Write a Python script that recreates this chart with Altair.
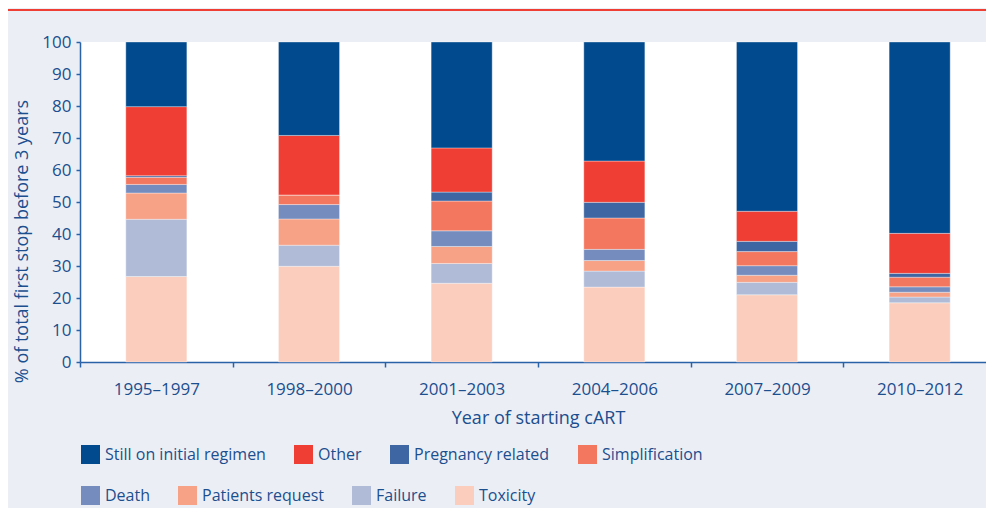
import altair as alt
import pandas as pd

periods = ["1995–1997", "1998–2000", "2001–2003", "2004–2006", "2007–2009", "2010–2012"]
causes_row1 = ["Still on initial regimen", "Other", "Pregnancy related", "Simplification"]
colors_row1 = ["#024a8e", "#ef3e33", "#3e66a2", "#f3765e"]
causes_row2 = ["Death", "Patients request", "Failure", "Toxicity"]
colors_row2 = ["#758dbe", "#f7a187", "#b0bbd8", "#facdbd"]

toxicity = [26.7, 29.9, 24.6, 23.4, 21.0, 18.5]
failure = [17.9, 6.6, 6.2, 5.0, 3.9, 1.8]
patients_request = [8.2, 8.2, 5.3, 3.3, 2.2, 1.5]
death = [2.7, 4.5, 4.9, 3.5, 3.0, 1.7]
simplification = [2.2, 3.0, 9.3, 9.8, 4.4, 3.0]
pregnancy = [0.5, 0.0, 2.8, 4.9, 3.2, 1.2]
other = [21.6, 18.6, 13.8, 12.9, 9.4, 12.5]
still = [20.2, 29.2, 33.1, 37.2, 52.9, 59.8]

series = {
    "Toxicity": toxicity,
    "Failure": failure,
    "Patients request": patients_request,
    "Death": death,
    "Simplification": simplification,
    "Pregnancy related": pregnancy,
    "Other": other,
    "Still on initial regimen": still,
}

rows = []
for k, (name, vals) in enumerate(series.items()):
    for p, v in zip(periods, vals):
        rows.append({"period": p, "cause": name, "value": v, "ord": k})
df = pd.DataFrame(rows)

TXT = "#1b4f8e"
AX = "#2a62a8"
FONT = "Open Sans"

x_enc = alt.X("period:N", sort=periods,
              scale=alt.Scale(range=[0, 916], paddingInner=0, paddingOuter=0),
              axis=alt.Axis(title="Year of starting cART", labelAngle=0, tickBand="extent",
                            domainColor=AX, domainWidth=1.5, tickColor=AX, tickWidth=1.5, tickSize=5,
                            labelColor=TXT, labelFontSize=17, labelFont=FONT, labelPadding=14,
                            titleColor=TXT, titleFontSize=18, titleFont=FONT, titleFontWeight="normal",
                            titlePadding=12))
y_enc = alt.Y("y0:Q",
              scale=alt.Scale(domain=[0, 100], nice=False),
              axis=alt.Axis(title="% of total first stop before 3 years", values=list(range(0, 101, 10)),
                            grid=False, domainColor=AX, domainWidth=1.5, tickColor=AX, tickWidth=1.5,
                            tickSize=4, labelColor=TXT, labelFontSize=17, labelFont=FONT, labelPadding=5,
                            titleColor=TXT, titleFontSize=18, titleFont=FONT, titleFontWeight="normal",
                            titleX=-58, titleY=199, titleAlign="center", titleBaseline="middle",
                            titleAngle=-90))


def legend(y):
    return alt.Legend(title=None, orient="none", legendX=1, legendY=y,
                      direction="horizontal", columnPadding=28, padding=0,
                      symbolType="square", symbolSize=361, symbolStrokeWidth=0,
                      symbolOpacity=1, labelOffset=5, labelFontSize=16,
                      labelFont=FONT, labelColor=TXT, labelLimit=400)


base = alt.Chart(df).transform_stack(
    stack="value", as_=["y0", "y1"], groupby=["period"],
    sort=[alt.SortField("ord", order="ascending")]
)

mark = dict(width=alt.RelativeBandSize(band=0.4), stroke="white", strokeWidth=1, strokeOpacity=0.35)

layer_a = base.transform_filter(alt.datum.ord >= 4).mark_bar(**mark).encode(
    x=x_enc, y=y_enc, y2="y1:Q",
    color=alt.Color("cause:N", sort=causes_row1,
                    scale=alt.Scale(domain=causes_row1, range=colors_row1),
                    legend=legend(403)),
)

layer_b = base.transform_filter(alt.datum.ord < 4).mark_bar(**mark).encode(
    x=x_enc, y=y_enc, y2="y1:Q",
    fill=alt.Fill("cause:N", sort=causes_row2,
                  scale=alt.Scale(domain=causes_row2, range=colors_row2),
                  legend=legend(444)),
)

topline = alt.Chart(pd.DataFrame({"a": [0]})).mark_rule(color="#ef3e33", strokeWidth=2).encode(
    x=alt.value(-72), x2=alt.value(916), y=alt.value(-32)
)

chart = alt.layer(layer_b, layer_a, topline).properties(
    width=906, height=320,
    autosize=alt.AutoSizeParams(type="none"),
    padding={"left": 72, "top": 34, "right": 0, "bottom": 146},
    background="#eceef6",
).configure_view(fill="white", stroke=None)

chart.save("out.html", embed_options={"renderer": "svg", "actions": False})
